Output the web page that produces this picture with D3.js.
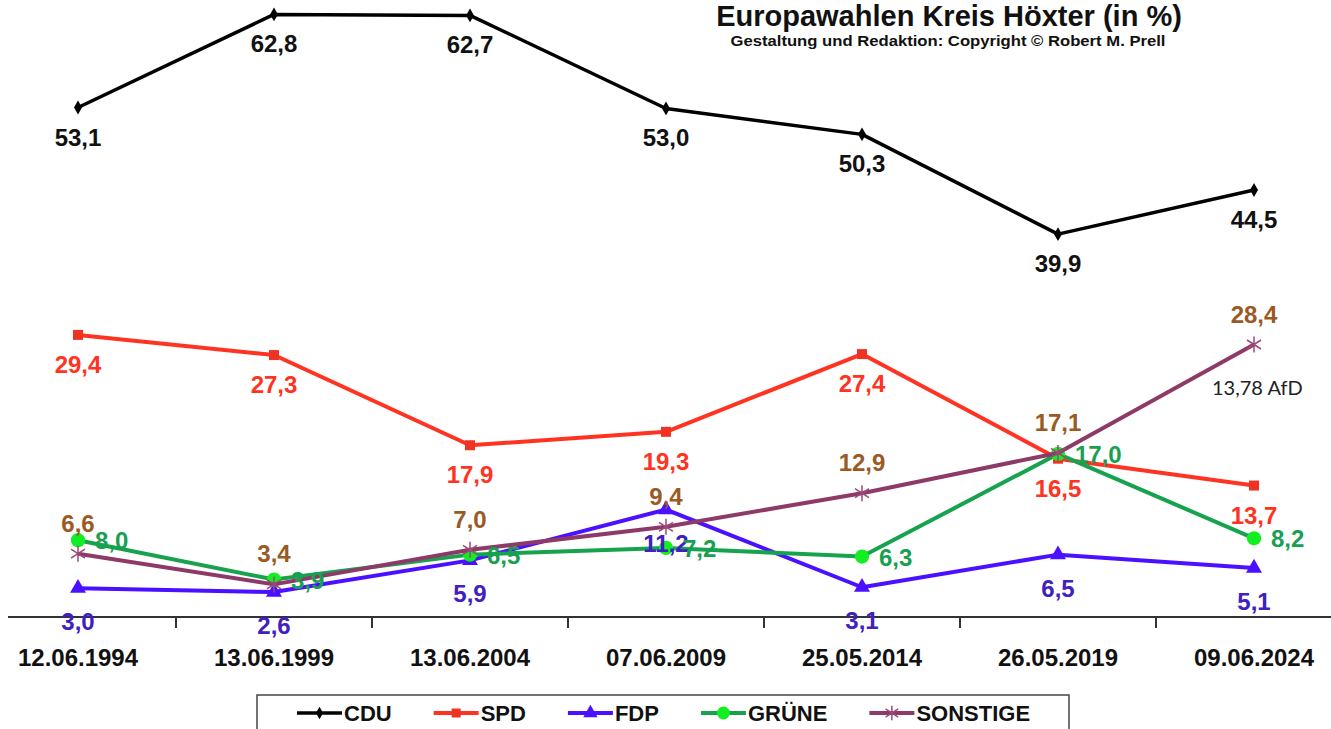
<!DOCTYPE html>
<html>
<head>
<meta charset="utf-8">
<script src="https://cdn.jsdelivr.net/npm/d3@7"></script>
<style>
  body { margin: 0; background: #fff; }
  svg { display: block; }
</style>
</head>
<body>
<div id="chart"></div>
<script>
// Data
const dates = ["12.06.1994", "13.06.1999", "13.06.2004", "07.06.2009", "25.05.2014", "26.05.2019", "09.06.2024"];
const cdu = [53.1, 62.8, 62.7, 53.0, 50.3, 39.9, 44.5];
const spd = [29.4, 27.3, 17.9, 19.3, 27.4, 16.5, 13.7];
const fdp = [3.0, 2.6, 5.9, 11.2, 3.1, 6.5, 5.1];
const gruene = [8.0, 3.9, 6.5, 7.2, 6.3, 17.0, 8.2];
const sonstige = [6.6, 3.4, 7.0, 9.4, 12.9, 17.1, 28.4];
const seriesNames = ["CDU", "SPD", "FDP", "GRÜNE", "SONSTIGE"];
const afdNote = "13,78 AfD";

const width = 1331, height = 729;

const svg = d3.select("#chart")
  .append("svg")
  .attr("width", width)
  .attr("height", height)
  .style("font-family", "'Liberation Sans', Arial, sans-serif");

// Scales
const x = d3.scalePoint().domain(dates).range([78, 1254]);
const band = d3.scaleBand().domain(dates).range([-20, 1352]);
const y = d3.scaleLinear().domain([0, 64.2]).range([617, 1]);

const fmt = v => d3.format(".1f")(v).replace(".", ",");

// Series styles (label position: below / right / above)
const series = [
  { name: seriesNames[0], values: cdu, line: "#000", marker: "#000", label: "#111", lw: 3.5, sym: "diamond", pos: "below" },
  { name: seriesNames[1], values: spd, line: "#ff3322", marker: "#ee3322", label: "#ff3322", lw: 4, sym: "square", pos: "below" },
  { name: seriesNames[2], values: fdp, line: "#4a10ff", marker: "#4a10ff", label: "#4020c0", lw: 4, sym: "triangle", pos: "below2" },
  { name: seriesNames[3], values: gruene, line: "#17a34e", marker: "#11ee22", label: "#17a050", lw: 4, sym: "circle", pos: "right" },
  { name: seriesNames[4], values: sonstige, line: "#8e3a68", marker: "#9b4a78", label: "#9a5a24", lw: 4, sym: "star", pos: "above" }
];

function drawMarker(g, sym, color, scale) {
  const k = scale || 1;
  if (sym === "star") {
    g.append("path")
      .attr("d", `M0,${-8 * k}L0,${8 * k}M${-7 * k},${-4.5 * k}L${7 * k},${4.5 * k}M${-7 * k},${4.5 * k}L${7 * k},${-4.5 * k}`)
      .attr("stroke", color)
      .attr("stroke-width", 1.5)
      .attr("fill", "none");
    return;
  }
  const types = { diamond: d3.symbolDiamond, square: d3.symbolSquare, triangle: d3.symbolTriangle, circle: d3.symbolCircle };
  const sizes = { diamond: 55, square: 100, triangle: 110, circle: 160 };
  g.append("path")
    .attr("d", d3.symbol().type(types[sym]).size(sizes[sym] * k * k)())
    .attr("fill", color);
}

// Axis
svg.append("line")
  .attr("x1", 8).attr("x2", width)
  .attr("y1", 617).attr("y2", 617)
  .attr("stroke", "#333")
  .attr("stroke-width", 2);

svg.selectAll(".sep")
  .data(dates.slice(1))
  .enter()
  .append("line")
  .attr("x1", d => band(d)).attr("x2", d => band(d))
  .attr("y1", 617).attr("y2", 628)
  .attr("stroke", "#333")
  .attr("stroke-width", 2);

svg.selectAll(".cat")
  .data(dates)
  .enter()
  .append("text")
  .attr("x", d => x(d))
  .attr("y", 666)
  .attr("text-anchor", "middle")
  .attr("font-size", 24)
  .attr("font-weight", "bold")
  .attr("fill", "#111")
  .text(d => d);

// Lines and markers
const line = d3.line()
  .x((d, i) => x(dates[i]))
  .y(d => y(d));

series.forEach(s => {
  svg.append("path")
    .datum(s.values)
    .attr("d", line)
    .attr("fill", "none")
    .attr("stroke", s.line)
    .attr("stroke-width", s.lw)
    .attr("stroke-linejoin", "round");

  s.values.forEach((v, i) => {
    const g = svg.append("g").attr("transform", `translate(${x(dates[i])},${y(v)})`);
    drawMarker(g, s.sym, s.marker);
  });
});

// Value labels
series.forEach(s => {
  svg.selectAll(null)
    .data(s.values)
    .enter()
    .append("text")
    .attr("x", (d, i) => s.pos === "right" ? x(dates[i]) + 17 : x(dates[i]))
    .attr("y", d => {
      if (s.pos === "below") return y(d) + 38;
      if (s.pos === "below2") return y(d) + 42;
      if (s.pos === "above") return y(d) - 22;
      return y(d) + 9;
    })
    .attr("text-anchor", s.pos === "right" ? "start" : "middle")
    .attr("font-size", 24)
    .attr("font-weight", "bold")
    .attr("fill", s.label)
    .text(d => fmt(d));
});

// AfD note
svg.append("text")
  .attr("x", x(dates[6]) - 42)
  .attr("y", y(sonstige[6]) + 50)
  .attr("font-family", "Lato, sans-serif")
  .attr("font-size", 20)
  .attr("fill", "#222")
  .text(afdNote);

// Title
svg.append("text")
  .attr("x", 949)
  .attr("y", 26)
  .attr("text-anchor", "middle")
  .attr("font-size", 29)
  .attr("font-weight", "bold")
  .attr("fill", "#111")
  .text("Europawahlen Kreis Höxter (in %)");

svg.append("text")
  .attr("x", 948)
  .attr("y", 46)
  .attr("text-anchor", "middle")
  .attr("font-size", 15)
  .attr("font-weight", "bold")
  .attr("fill", "#111")
  .attr("textLength", 435)
  .attr("lengthAdjust", "spacingAndGlyphs")
  .text("Gestaltung und Redaktion: Copyright © Robert M. Prell");

// Legend
const legend = svg.append("g");
legend.append("rect")
  .attr("x", 257).attr("y", 695)
  .attr("width", 812).attr("height", 50)
  .attr("fill", "#fff")
  .attr("stroke", "#444")
  .attr("stroke-width", 1.5);

let lx = 297;
series.forEach(s => {
  const item = legend.append("g").attr("transform", `translate(${lx},713)`);
  item.append("line")
    .attr("x1", 0).attr("x2", 45)
    .attr("stroke", s.line)
    .attr("stroke-width", s.lw);
  drawMarker(item.append("g").attr("transform", "translate(22.5,0)"), s.sym, s.marker, 0.9);
  const t = item.append("text")
    .attr("x", 47)
    .attr("y", 8)
    .attr("font-size", 22)
    .attr("font-weight", "bold")
    .attr("fill", "#111")
    .text(s.name);
  lx += 47 + t.node().getComputedTextLength() + 42;
});
</script>
</body>
</html>
